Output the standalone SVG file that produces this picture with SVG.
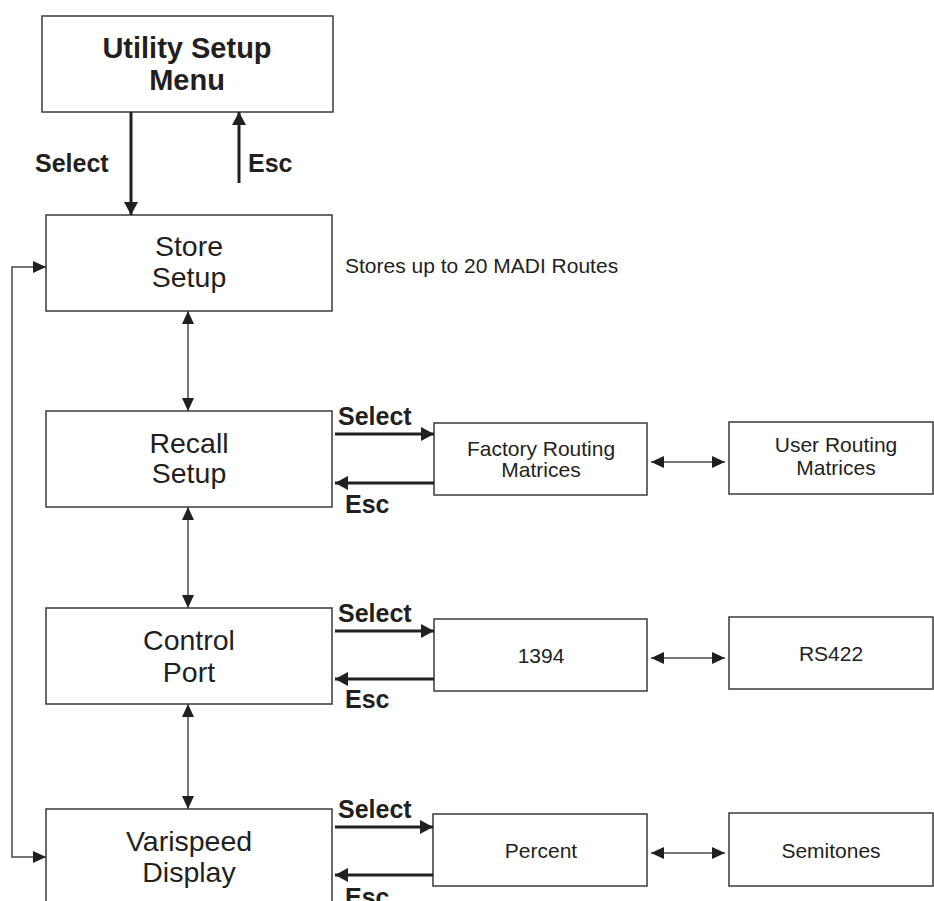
<svg xmlns="http://www.w3.org/2000/svg" width="934" height="901" viewBox="0 0 934 901">
<style>
.box{fill:#fff;stroke:#3a3a3a;stroke-width:1.5}
.t{font-family:"Liberation Sans",Arial,sans-serif;fill:#231f20;text-anchor:middle}
.big{font-size:28.5px}
.sm{font-size:21px}
.lbl{font-family:"Liberation Sans",Arial,sans-serif;fill:#231f20;font-weight:bold;font-size:25px}
.thin{fill:none;stroke:#4a4a4a;stroke-width:1.5}
.bold{fill:none;stroke:#231f20;stroke-width:3}
</style>
<defs>
<marker id="a" markerUnits="userSpaceOnUse" markerWidth="14" markerHeight="12" refX="13" refY="6" orient="auto-start-reverse"><path d="M0,0 L13,6 L0,12 z" fill="#231f20"/></marker>
<marker id="b" markerUnits="userSpaceOnUse" markerWidth="14" markerHeight="14" refX="13" refY="7" orient="auto-start-reverse"><path d="M0,0 L13,7 L0,14 z" fill="#231f20"/></marker>
</defs>
<g id="utility"><rect class="box" x="42" y="16" width="291" height="96"/><text class="t" x="187" y="58" font-size="29" font-weight="bold">Utility Setup</text><text class="t" x="187" y="90" font-size="29" font-weight="bold">Menu</text></g>
<g id="store"><rect class="box" x="46" y="215" width="286" height="96"/><text class="t big" x="189" y="256">Store</text><text class="t big" x="189" y="287">Setup</text></g>
<g id="note"><text class="sm" x="345" y="273" font-family="Liberation Sans, Arial, sans-serif" fill="#231f20">Stores up to 20 MADI Routes</text></g>
<g id="recall"><rect class="box" x="46" y="411" width="286" height="96"/><text class="t big" x="189" y="453">Recall</text><text class="t big" x="189" y="483">Setup</text></g>
<g id="control"><rect class="box" x="46" y="608" width="286" height="96"/><text class="t big" x="189" y="650">Control</text><text class="t big" x="189" y="682">Port</text></g>
<g id="varispeed"><rect class="box" x="46" y="809" width="286" height="110"/><text class="t big" x="189" y="851">Varispeed</text><text class="t big" x="189" y="882">Display</text></g>
<g id="factory"><rect class="box" x="434" y="423" width="213" height="72"/><text class="t sm" x="541" y="456">Factory Routing</text><text class="t sm" x="541" y="477">Matrices</text></g>
<g id="user"><rect class="box" x="729" y="422" width="204" height="72"/><text class="t sm" x="836" y="452">User Routing</text><text class="t sm" x="836" y="475">Matrices</text></g>
<g id="n1394"><rect class="box" x="434" y="619" width="213" height="72"/><text class="t sm" x="541" y="663">1394</text></g>
<g id="rs422"><rect class="box" x="729" y="617" width="204" height="72"/><text class="t sm" x="831" y="661">RS422</text></g>
<g id="percent"><rect class="box" x="433" y="814" width="214" height="72"/><text class="t sm" x="541" y="858">Percent</text></g>
<g id="semitones"><rect class="box" x="729" y="813" width="204" height="73"/><text class="t sm" x="831" y="858">Semitones</text></g>
<g id="connectors">
<line class="bold" x1="131" y1="112" x2="131" y2="215" marker-end="url(#b)"/>
<line class="bold" x1="239" y1="183" x2="239" y2="112" marker-end="url(#b)"/>
<text class="lbl" x="35" y="172">Select</text>
<text class="lbl" x="248" y="172">Esc</text>
<polyline class="thin" points="46,267 12,267 12,857 46,857" marker-start="url(#a)" marker-end="url(#a)"/>
<line class="thin" x1="188" y1="311" x2="188" y2="411" marker-start="url(#a)" marker-end="url(#a)"/>
<line class="thin" x1="188" y1="507" x2="188" y2="608" marker-start="url(#a)" marker-end="url(#a)"/>
<line class="thin" x1="188" y1="704" x2="188" y2="809" marker-start="url(#a)" marker-end="url(#a)"/>
<line class="bold" x1="335" y1="434" x2="434" y2="434" marker-end="url(#b)"/>
<line class="bold" x1="434" y1="483" x2="335" y2="483" marker-end="url(#b)"/>
<text class="lbl" x="338" y="425">Select</text>
<text class="lbl" x="345" y="513">Esc</text>
<line class="bold" x1="335" y1="631" x2="434" y2="631" marker-end="url(#b)"/>
<line class="bold" x1="434" y1="679" x2="335" y2="679" marker-end="url(#b)"/>
<text class="lbl" x="338" y="622">Select</text>
<text class="lbl" x="345" y="708">Esc</text>
<line class="bold" x1="335" y1="827" x2="433" y2="827" marker-end="url(#b)"/>
<line class="bold" x1="433" y1="875" x2="335" y2="875" marker-end="url(#b)"/>
<text class="lbl" x="338" y="818">Select</text>
<text class="lbl" x="345" y="906">Esc</text>
<line class="thin" x1="651" y1="462" x2="725" y2="462" marker-start="url(#a)" marker-end="url(#a)"/>
<line class="thin" x1="651" y1="658" x2="725" y2="658" marker-start="url(#a)" marker-end="url(#a)"/>
<line class="thin" x1="651" y1="853" x2="725" y2="853" marker-start="url(#a)" marker-end="url(#a)"/>
</g>
</svg>
